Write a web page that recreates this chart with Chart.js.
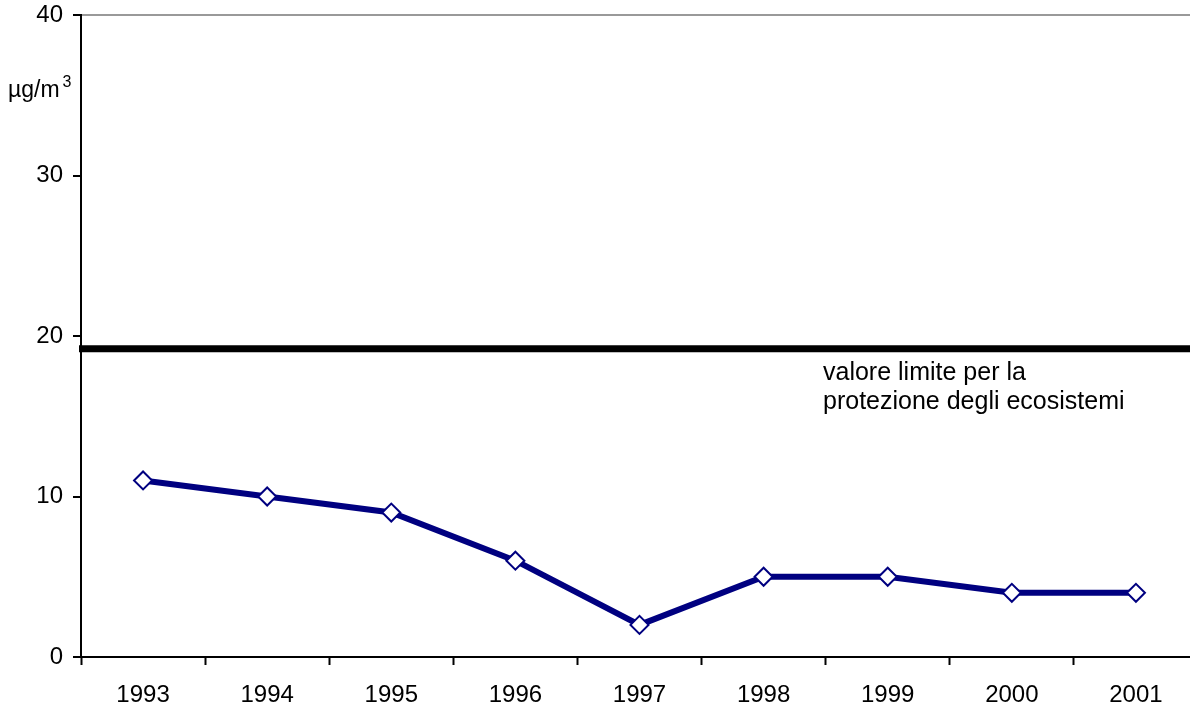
<!DOCTYPE html>
<html>
<head>
<meta charset="utf-8">
<script src="https://cdn.jsdelivr.net/npm/chart.js@4"></script>
<style>
  html, body { margin: 0; padding: 0; background: #fff; overflow: hidden; }
  canvas { display: block; }
</style>
</head>
<body>
<!-- un po' più largo della finestra: l'asse x continua oltre il bordo destro -->
<canvas id="chart" width="1198" height="710"></canvas>
<script>
// anni e concentrazioni medie annue (µg/m3)
const years = ["1993", "1994", "1995", "1996", "1997", "1998", "1999", "2000", "2001"]
const concentrations = [11, 10, 9, 6, 2, 5, 5, 4, 4]
const yTicks = [0, 10, 20, 30, 40]
const limitValue = 19.2
const limitLabel = ["valore limite per la", "protezione degli ecosistemi"]
const unitLabel = "µg/m"

const FONT = "'Liberation Sans', Arial, sans-serif"

// linea del valore limite + testi
const extras = {
    id: "extras",
    afterDatasetsDraw(chart) {
        const ctx = chart.ctx
        const y = chart.scales.y.getPixelForValue(limitValue)
        ctx.save()
        ctx.strokeStyle = "#000"
        ctx.lineWidth = 7
        ctx.beginPath()
        ctx.moveTo(chart.chartArea.left - 2, y)
        ctx.lineTo(chart.width, y)
        ctx.stroke()

        ctx.fillStyle = "#000"
        ctx.font = "25px " + FONT
        ctx.textBaseline = "alphabetic"
        ctx.textAlign = "left"
        ctx.fillText(limitLabel[0], 823, y + 31)
        ctx.fillText(limitLabel[1], 823, y + 60)

        // unità di misura
        ctx.font = "23px " + FONT
        ctx.fillText(unitLabel, 8, 97)
        const w = ctx.measureText(unitLabel).width
        ctx.font = "16px " + FONT
        ctx.fillText("3", 8 + w + 3, 87)
        ctx.restore()
    }
}

const ctx = document.getElementById("chart").getContext("2d")
new Chart(ctx, {
    type: "line",
    data: {
        labels: years,
        datasets: [{
            data: concentrations,
            borderColor: "#000080",
            borderWidth: 6,
            pointStyle: "rectRot",
            pointRadius: 9,
            pointBackgroundColor: "#fff",
            pointBorderColor: "#000080",
            pointBorderWidth: 2,
            tension: 0
        }]
    },
    options: {
        responsive: false,
        animation: false,
        layout: {
            autoPadding: false,
            padding: { top: 15, right: 0, left: 0, bottom: 0 }
        },
        plugins: {
            legend: { display: false },
            tooltip: { enabled: false }
        },
        scales: {
            x: {
                offset: true,
                grid: {
                    offset: true,
                    drawOnChartArea: false,
                    tickLength: 8,
                    tickWidth: 2,
                    tickColor: "#000"
                },
                border: { color: "#000", width: 2 },
                ticks: {
                    color: "#000",
                    font: { family: FONT, size: 24 },
                    padding: 16,
                    maxRotation: 0
                },
                afterFit: (scale) => {
                    scale.height = 53
                    scale.paddingLeft = 0
                    scale.paddingRight = 0
                }
            },
            y: {
                min: 0,
                max: 40,
                afterBuildTicks: (scale) => { scale.ticks = yTicks.map(v => ({ value: v })) },
                grid: {
                    color: (c) => c.tick && c.tick.value === 40 ? "#999" : "rgba(0,0,0,0)",
                    lineWidth: 2,
                    tickLength: 8,
                    tickWidth: 2,
                    tickColor: "#000"
                },
                border: { color: "#000", width: 2 },
                ticks: {
                    color: "#000",
                    font: { family: FONT, size: 24 },
                    padding: 10
                },
                afterFit: (scale) => {
                    scale.width = 81
                    scale.paddingTop = 0
                    scale.paddingBottom = 0
                }
            }
        }
    },
    plugins: [extras]
})
</script>
</body>
</html>
